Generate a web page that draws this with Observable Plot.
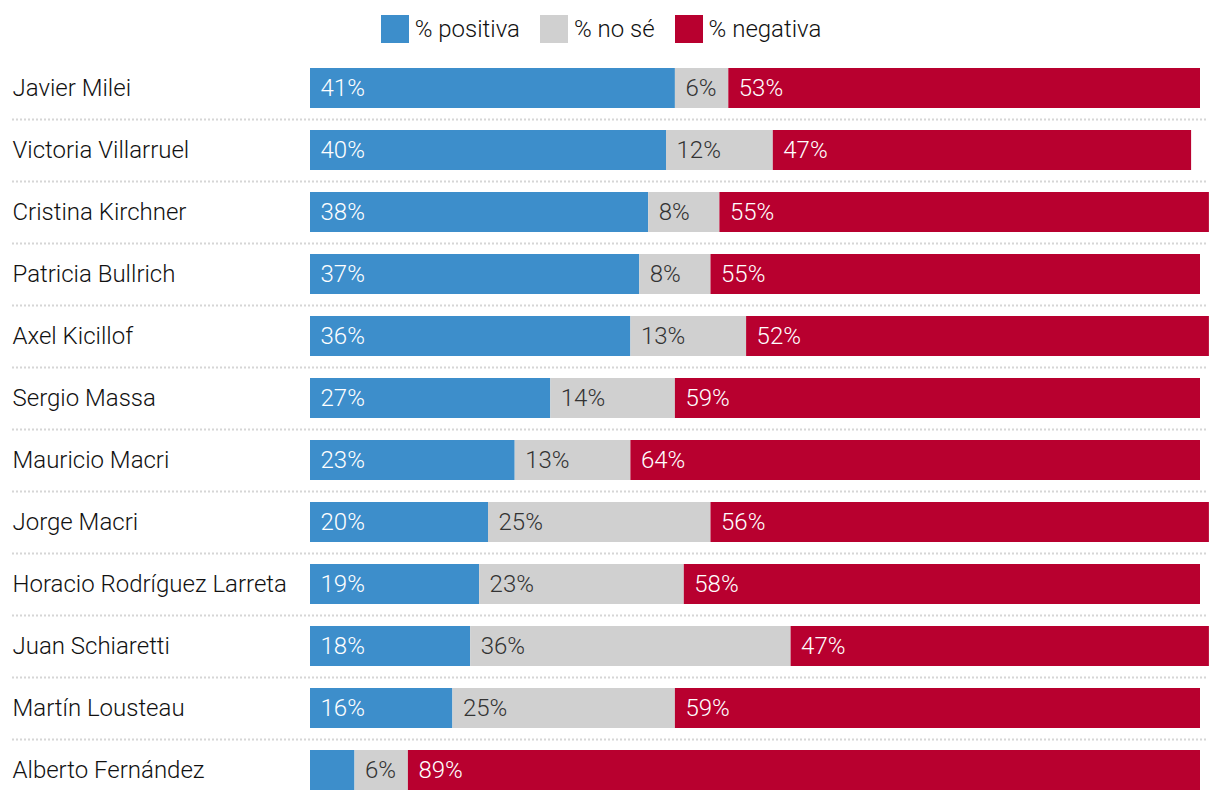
<!DOCTYPE html>
<html><head><meta charset="utf-8">
<script src="https://cdn.jsdelivr.net/npm/d3@7"></script>
<script src="https://cdn.jsdelivr.net/npm/@observablehq/plot@0.6"></script>
<style>
body{margin:0;background:#fff;font-family:Roboto, sans-serif;}
#legend{height:57px;display:flex;justify-content:center;align-items:center;font-size:24px;font-weight:300;color:#111;padding-right:18px;}
#legend .item{display:flex;align-items:center;margin:0 10px;}
#legend .sw{width:28px;height:28px;margin-right:6px;}
svg{display:block;}
</style></head><body>
<div id="legend"></div><div id="chart"></div>
<script>
const names = ["Javier Milei","Victoria Villarruel","Cristina Kirchner","Patricia Bullrich","Axel Kicillof","Sergio Massa","Mauricio Macri","Jorge Macri","Horacio Rodríguez Larreta","Juan Schiaretti","Martín Lousteau","Alberto Fernández"];
const positiva = [41,40,38,37,36,27,23,20,19,18,16,5];
const nose = [6,12,8,8,13,14,13,25,23,36,25,6];
const negativa = [53,47,55,55,52,59,64,56,58,47,59,89];
const categories = ["% positiva","% no sé","% negativa"];
const colors = ["#3d8ecb","#d0d0d0","#b8002f"];

const legend = document.getElementById("legend");
categories.forEach((c,i)=>{
  const it = document.createElement("div"); it.className="item";
  const sw = document.createElement("div"); sw.className="sw"; sw.style.background=colors[i];
  const t = document.createElement("span"); t.textContent=c;
  it.appendChild(sw); it.appendChild(t); legend.appendChild(it);
});

const series = [positiva, nose, negativa];
const data = names.flatMap((n,i)=>categories.map((c,k)=>({name:n, cat:c, value:series[k][i]})));

const chart = Plot.plot({
  width:1220, height:744, marginTop:0, marginBottom:0, marginLeft:12, marginRight:12,
  x:{domain:[0,100], range:[310,1200], axis:null},
  y:{domain:names, paddingInner:22/62, paddingOuter:11/62, axis:null},
  color:{domain:categories, range:colors},
  style:{fontFamily:"Roboto, sans-serif", fontSize:"24px", fontWeight:300, background:"#fff"},
  marks:[
    Plot.ruleY(names.slice(0,-1), {y:d=>d, dy:31, stroke:"#d6d6d6", strokeWidth:2, strokeDasharray:"2,2"}),
    Plot.barX(data, {x:"value", y:"name", fill:"cat"}),
    Plot.text(data, Plot.stackX1({x:"value", y:"name", z:"cat", text:d=> d.cat!==categories[1] && d.value>=6 ? d.value+"%" : null, fill:"white", dx:10, textAnchor:"start"})),
    Plot.text(data, Plot.stackX1({x:"value", y:"name", z:"cat", text:d=> d.cat===categories[1] ? d.value+"%" : null, fill:"#333", dx:10, textAnchor:"start"})),
    Plot.text(names, {y:d=>d, text:d=>d, frameAnchor:"left", textAnchor:"start", fill:"#111"})
  ]
});
document.getElementById("chart").appendChild(chart);
</script>
</body></html>
